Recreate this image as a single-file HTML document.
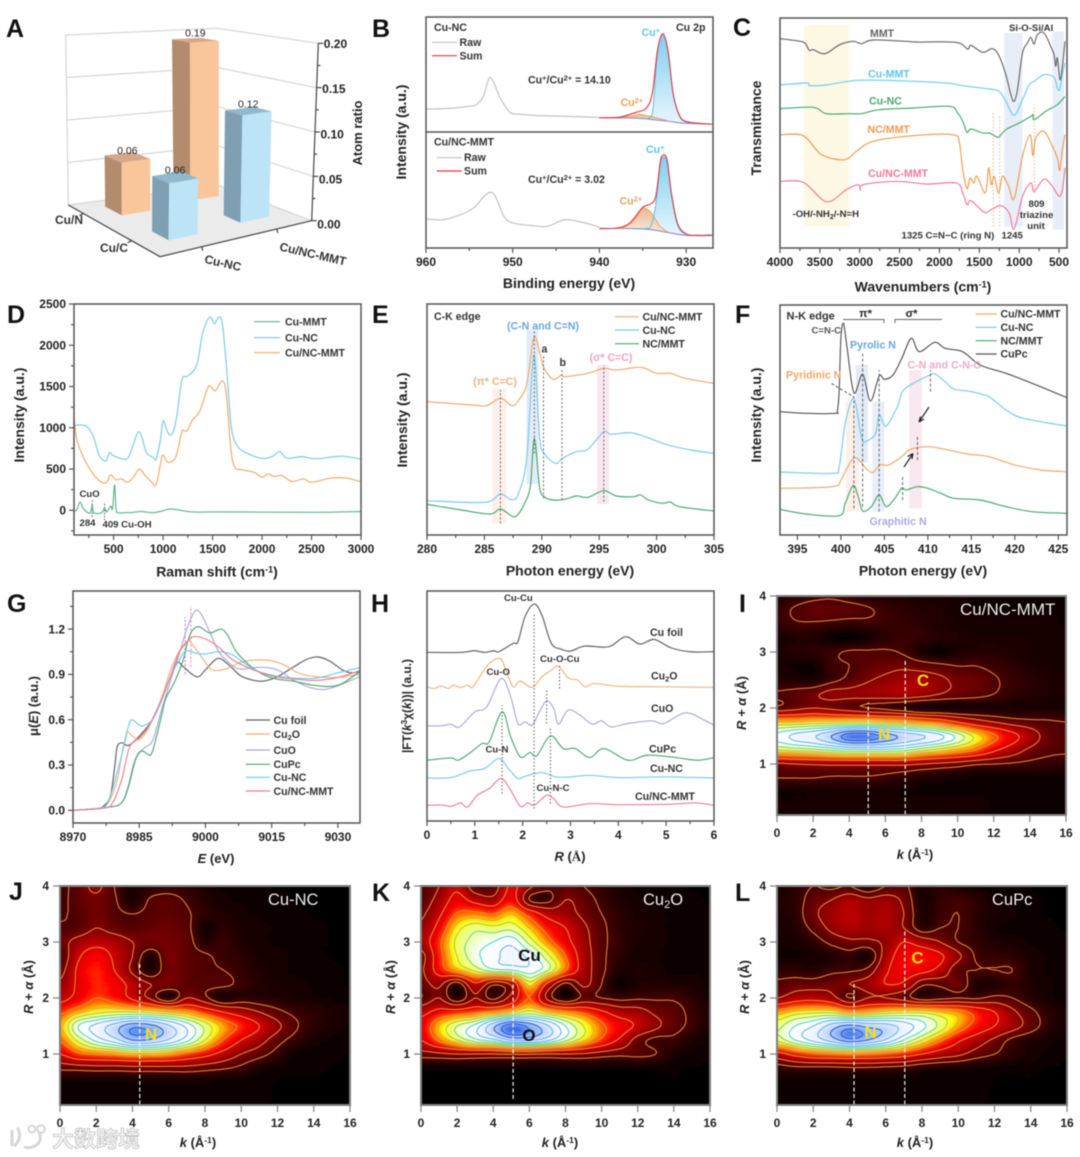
<!DOCTYPE html>
<html lang="en">
<head>
<meta charset="utf-8">
<title>Cu/NC-MMT characterisation figure</title>
<style>
html,body{margin:0;padding:0;background:#fff;width:1080px;height:1157px;overflow:hidden}
svg{display:block;filter:blur(.4px)}
text{font-family:"Liberation Sans","Noto Sans CJK SC",sans-serif;fill:#222}
.pl{font-size:25px;font-weight:700;fill:#111}
.ax{font-size:14px;font-weight:700;text-anchor:middle}
.ay{font-size:14px;font-weight:700;text-anchor:middle}
.tk{font-size:12px;font-weight:700}
.lg{font-size:10.6px;font-weight:700;fill:#333}
.an{font-size:9.6px;font-weight:700;fill:#333}
.cat{font-size:12px;font-weight:700;fill:#333}
.hn{font-size:16.5px;fill:#eee}
.pk{font-size:17px;font-weight:700;text-anchor:middle}
.wm{font-family:"Noto Sans CJK SC",sans-serif;font-size:22px;font-weight:700;fill:#f4f4f4;fill-opacity:.9;stroke:#b0b0b0;stroke-width:.6}
</style>
</head>
<body>
<svg id="figure" xmlns="http://www.w3.org/2000/svg" width="1080" height="1157" viewBox="0 0 1080 1157">
<defs>
<filter id="heat-blur" x="-5%" y="-5%" width="110%" height="110%"><feGaussianBlur stdDeviation="2"/></filter>
<linearGradient id="cu1-fill" x1="0" y1="0" x2="0" y2="1"><stop offset="0" stop-color="#6cc5ee"/><stop offset="1" stop-color="#e4f5fd"/></linearGradient>
<linearGradient id="cu2-fill" x1="0" y1="0" x2="0" y2="1"><stop offset="0" stop-color="#e8a878"/><stop offset="1" stop-color="#fbe8d8"/></linearGradient>
</defs>
<rect width="1080" height="1157" fill="#fff"/>
<g id="panel-a"></g>
<g id="panel-b"></g>
<g id="panel-c"></g>
<g id="panel-d"></g>
<g id="panel-e"></g>
<g id="panel-f"></g>
<g id="panel-g"></g>
<g id="panel-h"></g>
<g id="panel-i"></g>
<g id="panel-j"></g>
<g id="panel-k"></g>
<g id="panel-l"></g>

<!-- panel letters -->
<text class="pl" x="6" y="37">A</text>
<text class="pl" x="372" y="37">B</text>
<text class="pl" x="733" y="36">C</text>
<text class="pl" x="7" y="323">D</text>
<text class="pl" x="372" y="323">E</text>
<text class="pl" x="735" y="323">F</text>
<text class="pl" x="7" y="612">G</text>
<text class="pl" x="371" y="612">H</text>
<text class="pl" x="739" y="612">I</text>
<text class="pl" x="9" y="900">J</text>
<text class="pl" x="372" y="901">K</text>
<text class="pl" x="735" y="901">L</text>

<!-- A -->
<text class="cat" x="83" y="224" text-anchor="end">Cu/N</text>
<text class="cat" x="128" y="252" text-anchor="end">Cu/C</text>
<text class="cat" text-anchor="middle" transform="translate(222,267) rotate(13)">Cu-NC</text>
<text class="cat" text-anchor="middle" transform="translate(312,258) rotate(13)">Cu/NC-MMT</text>
<text class="ay" style="font-size:13px" transform="translate(362,133) rotate(-90)">Atom ratio</text>

<!-- B -->
<text class="lg" x="434" y="31">Cu-NC</text>
<line x1="432" x2="457" y1="42.3" y2="42.3" stroke="#bdbdbd" stroke-width="1.2"/>
<text class="lg" x="459.5" y="46">Raw</text>
<line x1="432" x2="457" y1="55.7" y2="55.7" stroke="#e0393e" stroke-width="1.2"/>
<text class="lg" x="459.5" y="59.5">Sum</text>
<text class="lg" x="676" y="31">Cu 2p</text>
<text class="lg" x="641.5" y="36" style="fill:#5ec4ea">Cu<tspan dy="-3" font-size="7.5">+</tspan></text>
<text class="lg" x="528" y="83.5">Cu<tspan dy="-3" font-size="7.5">+</tspan><tspan dy="3">/Cu</tspan><tspan dy="-3" font-size="7.5">2+</tspan><tspan dy="3"> = 14.10</tspan></text>
<text class="lg" x="620.5" y="106" style="fill:#e8a064">Cu<tspan dy="-3" font-size="7.5">2+</tspan></text>
<text class="lg" x="434" y="145.5">Cu/NC-MMT</text>
<line x1="436.7" x2="461.7" y1="157.7" y2="157.7" stroke="#bdbdbd" stroke-width="1.2"/>
<text class="lg" x="464" y="161">Raw</text>
<line x1="436.7" x2="461.7" y1="171" y2="171" stroke="#e0393e" stroke-width="1.2"/>
<text class="lg" x="464" y="174.5">Sum</text>
<text class="lg" x="646" y="153" style="fill:#5ec4ea">Cu<tspan dy="-3" font-size="7.5">+</tspan></text>
<text class="lg" x="528" y="183">Cu<tspan dy="-3" font-size="7.5">+</tspan><tspan dy="3">/Cu</tspan><tspan dy="-3" font-size="7.5">2+</tspan><tspan dy="3"> = 3.02</tspan></text>
<text class="lg" x="619.5" y="204.5" style="fill:#e8a064">Cu<tspan dy="-3" font-size="7.5">2+</tspan></text>
<text class="ay" transform="translate(406,132) rotate(-90)">Intensity (a.u.)</text>
<text class="ax" x="569" y="288">Binding energy (eV)</text>

<!-- C -->
<text class="lg" x="870" y="37" style="fill:#666">MMT</text>
<text class="lg" x="868" y="77.5" style="fill:#5ec4ea">Cu-MMT</text>
<text class="lg" x="869" y="104.5" style="fill:#46a86c">Cu-NC</text>
<text class="lg" x="867.5" y="133" style="fill:#ee9a4d">NC/MMT</text>
<text class="lg" x="868" y="177" style="fill:#ee7b95">Cu/NC-MMT</text>
<text class="an" x="1009" y="31">Si-O-Si/Al</text>
<text class="an" x="792.5" y="217">-OH/-NH<tspan dy="2" font-size="7">2</tspan><tspan dy="-2">/-N=H</tspan></text>
<text class="an" x="901.5" y="238.5">1325 C=N−C (ring N)</text>
<text class="an" x="1001.5" y="238.5">1245</text>
<text class="an" x="1036.5" y="207" text-anchor="middle">809</text>
<text class="an" x="1036.5" y="218" text-anchor="middle">triazine</text>
<text class="an" x="1036" y="229" text-anchor="middle">unit</text>
<text class="ay" transform="translate(761,128) rotate(-90)">Transmittance</text>
<text class="ax" x="923" y="291.5">Wavenumbers (cm<tspan dy="-4" font-size="9">-1</tspan><tspan dy="4">)</tspan></text>

<!-- D -->
<line x1="254" x2="280" y1="321.7" y2="321.7" stroke="#5cb58a" stroke-width="1.2"/>
<text class="lg" x="285" y="325.5">Cu-MMT</text>
<line x1="254" x2="280" y1="337.7" y2="337.7" stroke="#79c8ec" stroke-width="1.2"/>
<text class="lg" x="285" y="341.5">Cu-NC</text>
<line x1="254" x2="280" y1="352.7" y2="352.7" stroke="#f0a868" stroke-width="1.2"/>
<text class="lg" x="285" y="356.5">Cu/NC-MMT</text>
<text class="an" x="79.5" y="497">CuO</text>
<text class="an" x="79.5" y="526">284</text>
<text class="an" x="102.5" y="527.5">409 Cu-OH</text>
<text class="ay" transform="translate(24,415) rotate(-90)">Intensity (a.u.)</text>
<text class="ax" x="217" y="576.5">Raman shift (cm<tspan dy="-4" font-size="9">-1</tspan><tspan dy="4">)</tspan></text>

<!-- E -->
<text class="lg" x="434" y="320">C-K edge</text>
<line x1="615" x2="639" y1="316.7" y2="316.7" stroke="#f0a868" stroke-width="1.2"/>
<text class="lg" x="642.5" y="320.5">Cu/NC-MMT</text>
<line x1="615" x2="639" y1="330" y2="330" stroke="#79c8ec" stroke-width="1.2"/>
<text class="lg" x="642.5" y="334">Cu-NC</text>
<line x1="615" x2="639" y1="343.7" y2="343.7" stroke="#46a86c" stroke-width="1.2"/>
<text class="lg" x="642.5" y="347.5">NC/MMT</text>
<text class="lg" x="543" y="329.5" text-anchor="middle" style="fill:#6aa6d8">(C-N and C=N)</text>
<text class="lg" x="541.5" y="352.5">a</text>
<text class="lg" x="559.5" y="366">b</text>
<text class="lg" x="611" y="361" text-anchor="middle" style="fill:#f0a0c0">(σ* C=C)</text>
<text class="lg" x="495" y="385" text-anchor="middle" style="fill:#f0b080">(π* C=C)</text>
<text class="ay" transform="translate(407,420) rotate(-90)">Intensity (a.u.)</text>
<text class="ax" x="570" y="575.5">Photon energy (eV)</text>

<!-- F -->
<text class="lg" x="786.5" y="319.5" style="font-size:11px">N-K edge</text>
<path d="M843 319.5H884V323M895 323V319.5H942" fill="none" stroke="#666" stroke-width="1"/>
<text x="865.5" y="317" text-anchor="middle" style="font-size:11px;font-weight:700">π*</text>
<text x="911.5" y="317" text-anchor="middle" style="font-size:11px;font-weight:700">σ*</text>
<text class="an" x="811.5" y="333.5" style="fill:#555">C=N-C</text>
<text class="lg" x="850" y="348.5" style="fill:#6aa6d8">Pyrolic N</text>
<text class="lg" x="786" y="378.5" style="fill:#f0a868">Pyridinic N</text>
<text class="lg" x="907.5" y="368.5" style="fill:#f0a8c4">C-N and C-N-C</text>
<text class="lg" x="869.5" y="525" style="fill:#a8a8e0">Graphitic N</text>
<line x1="975.7" x2="996.7" y1="314" y2="314" stroke="#f0a868" stroke-width="1.2"/>
<text class="lg" x="1000.5" y="317.5">Cu/NC-MMT</text>
<line x1="975.7" x2="996.7" y1="327.3" y2="327.3" stroke="#79c8ec" stroke-width="1.2"/>
<text class="lg" x="1000.5" y="331">Cu-NC</text>
<line x1="975.7" x2="996.7" y1="340.7" y2="340.7" stroke="#46a86c" stroke-width="1.2"/>
<text class="lg" x="1000.5" y="344.5">NC/MMT</text>
<line x1="975.7" x2="996.7" y1="354" y2="354" stroke="#555" stroke-width="1.2"/>
<text class="lg" x="1000.5" y="357.5">CuPc</text>
<line x1="831.5" y1="383.5" x2="854" y2="397" stroke="#444" stroke-width=".9" stroke-dasharray="3 2"/>
<path d="M929 407L919 422M919 422L920.5 416.5M919 422L924 419" fill="none" stroke="#222" stroke-width="1.2"/>
<path d="M904 467L913 453.5M913 453.5L907.5 456.5M913 453.5L912 459" fill="none" stroke="#222" stroke-width="1.2"/>
<text class="ay" transform="translate(761,415) rotate(-90)">Intensity (a.u.)</text>
<text class="ax" x="923" y="575.5">Photon energy (eV)</text>

<!-- G -->
<line x1="245.7" x2="270" y1="720" y2="720" stroke="#5e5e5e" stroke-width="1.2"/>
<text class="lg" x="273.5" y="724">Cu foil</text>
<line x1="245.7" x2="270" y1="734" y2="734" stroke="#f0b078" stroke-width="1.2"/>
<text class="lg" x="273.5" y="738">Cu<tspan dy="2" font-size="7.5">2</tspan><tspan dy="-2">O</tspan></text>
<line x1="245.7" x2="270" y1="750" y2="750" stroke="#a9a9d6" stroke-width="1.2"/>
<text class="lg" x="273.5" y="754">CuO</text>
<line x1="245.7" x2="270" y1="764.3" y2="764.3" stroke="#4ea772" stroke-width="1.2"/>
<text class="lg" x="273.5" y="768">CuPc</text>
<line x1="245.7" x2="270" y1="777.3" y2="777.3" stroke="#6fcbef" stroke-width="1.2"/>
<text class="lg" x="273.5" y="781">Cu-NC</text>
<line x1="245.7" x2="270" y1="791" y2="791" stroke="#ee7f92" stroke-width="1.2"/>
<text class="lg" x="273.5" y="795">Cu/NC-MMT</text>
<text class="ay" style="font-size:13px" transform="translate(38,706) rotate(-90)">μ(<tspan font-style="italic">E</tspan>) (a.u.)</text>
<text class="ax" style="font-size:13px" x="216" y="863"><tspan font-style="italic">E</tspan> (eV)</text>

<!-- H -->
<text class="an" x="504" y="601">Cu-Cu</text>
<text class="lg" x="650" y="636">Cu foil</text>
<text class="an" x="540" y="662">Cu-O-Cu</text>
<text class="lg" x="651" y="679.5">Cu<tspan dy="2" font-size="7.5">2</tspan><tspan dy="-2">O</tspan></text>
<text class="an" x="486.5" y="675">Cu-O</text>
<text class="lg" x="651" y="712">CuO</text>
<text class="lg" x="649" y="752.5">CuPc</text>
<text class="an" x="485.5" y="752.5">Cu-N</text>
<text class="lg" x="650" y="772">Cu-NC</text>
<text class="an" x="536.5" y="791">Cu-N-C</text>
<text class="lg" x="635" y="800">Cu/NC-MMT</text>
<text class="ay" style="font-size:12px" transform="translate(411,706) rotate(-90)">|FT(<tspan font-style="italic">k</tspan><tspan dy="-4" font-size="8">3</tspan><tspan dy="4">χ(</tspan><tspan font-style="italic">k</tspan>))| (a.u.)</text>
<text class="ax" style="font-size:13px" x="570" y="861"><tspan font-style="italic">R</tspan> (<tspan style="font-family:'Liberation Serif',serif">Å</tspan>)</text>

<!-- I -->
<text class="hn" style="font-size:17px" x="960" y="615">Cu/NC-MMT</text>
<text class="pk" x="884" y="740" style="fill:#f0e020">N</text>
<text class="pk" x="923" y="686" style="fill:#f6d814">C</text>
<text class="ax" style="font-size:13px" x="915" y="859"><tspan font-style="italic">k</tspan> (Å<tspan dy="-4" font-size="8.5">-1</tspan><tspan dy="4">)</tspan></text>
<text class="ay" style="font-size:13px" transform="translate(746,703) rotate(-90)"><tspan font-style="italic">R + α</tspan> (Å)</text>

<!-- J -->
<text class="hn" x="268" y="905">Cu-NC</text>
<text class="pk" x="151" y="1040" style="fill:#f0e020">N</text>
<text class="ax" style="font-size:13px" x="198" y="1147"><tspan font-style="italic">k</tspan> (Å<tspan dy="-4" font-size="8.5">-1</tspan><tspan dy="4">)</tspan></text>
<text class="ay" style="font-size:13px" transform="translate(33,987) rotate(-90)"><tspan font-style="italic">R + α</tspan> (Å)</text>

<!-- K -->
<text class="hn" x="643" y="905">Cu<tspan dy="3" font-size="11">2</tspan><tspan dy="-3">O</tspan></text>
<text class="pk" x="529.5" y="961" style="fill:#111">Cu</text>
<text class="pk" x="529" y="1041" style="fill:#111">O</text>
<text class="ax" style="font-size:13px" x="560" y="1147"><tspan font-style="italic">k</tspan> (Å<tspan dy="-4" font-size="8.5">-1</tspan><tspan dy="4">)</tspan></text>
<text class="ay" style="font-size:13px" transform="translate(395,987) rotate(-90)"><tspan font-style="italic">R + α</tspan> (Å)</text>

<!-- L -->
<text class="hn" x="992" y="905">CuPc</text>
<text class="pk" x="917.5" y="963.5" style="fill:#f6d814">C</text>
<text class="pk" x="870.5" y="1038" style="fill:#f0e020">N</text>
<text class="ax" style="font-size:13px" x="915" y="1147"><tspan font-style="italic">k</tspan> (Å<tspan dy="-4" font-size="8.5">-1</tspan><tspan dy="4">)</tspan></text>
<text class="ay" style="font-size:13px" transform="translate(749,987) rotate(-90)"><tspan font-style="italic">R + α</tspan> (Å)</text>

<!-- watermark -->
<g opacity=".95">
<path d="M12 1130V1146M14 1146C22 1140 20 1130 17 1128M24 1147C34 1150 44 1142 39 1133" fill="none" stroke="#d4d4d4" stroke-width="3"/>
<circle cx="32" cy="1129" r="3.4" fill="none" stroke="#d4d4d4" stroke-width="2"/>
<circle cx="41" cy="1129" r="3.8" fill="none" stroke="#d4d4d4" stroke-width="2"/>
<text class="wm" x="52" y="1147">大数跨境</text>
</g>
</svg>

<script>
/* ---------- Panel A data ---------- */
const aRowNames = ['Cu/N', 'Cu/C'];
const aColNames = ['Cu-NC', 'Cu/NC-MMT'];
const aCuN = [0.06, 0.19];
const aCuC = [0.06, 0.12];
const aTicks = [0, 0.05, 0.10, 0.15, 0.20];

/* ---------- Panel B data (x eV, y a.u.) ---------- */
const bTicks = [960, 950, 940, 930];
const bMinor = [955, 945, 935];
const bTopRaw = [[960,69],[957,72],[955,78],[954.2,82],[953.4,107],[952.9,150],[952.6,165],[952.2,150],[951.6,112],[951.1,87],[950.2,57],[949.2,54],[947.3,50],[943.4,47],[940,44]];
const bTopSum = [[940,43],[938,44],[937.3,47],[935.8,59],[934.6,72],[933.9,117],[933.3,247],[932.7,297],[932.1,247],[931.5,117],[930.8,52],[930,32],[928,25],[927,24]];
const bTopBase = [[940,43],[936,42],[934,38],[932,32],[930,26],[927,24]];
const bTopCu1 = [[935,41],[934.2,43],[933.8,75],[933.3,240],[932.7,294],[932.1,244],[931.5,115],[930.8,50],[930,30],[928,25],[927,24]];
const bTopCu2 = [[938,44],[936.5,48],[935.5,53],[935,52],[934,46],[933,40],[932,33]];
const bBotRaw = [[960,88],[958,85],[956,100],[954.5,120],[953.3,155],[952.6,167],[952,155],[951,95],[950,75],[948,68],[946,65],[944,85],[942,77],[940,63]];
const bBotSum = [[940,58],[938,60],[936.5,75],[935,122],[934.1,132],[933.5,155],[933,255],[932.7,278],[932.2,265],[931.7,165],[931,75],[930,42],[928.5,38],[927,39]];
const bBotBase = [[940,59],[936,58],[934,55],[932,46],[930,38],[927,37]];
const bBotCu1 = [[936,58],[934.5,59],[934,70],[933.5,130],[933,250],[932.7,272],[932.2,260],[931.7,160],[931,70],[930,41],[928,38],[927,38]];
const bBotCu2 = [[938,60],[937,64],[936,85],[935.2,117],[934.8,120],[934,105],[933,65],[932,46]];

/* ---------- Panel C data ---------- */
const cTicks = [4000, 3500, 3000, 2500, 2000, 1500, 1000, 500];
const cMinor = [3750, 3250, 2750, 2250, 1750, 1250, 750];
const cMmt = [[4000,628],[3792,622],[3688,615],[3633,593],[3583,595],[3437,583],[3250,610],[3083,620],[2979,613],[2833,624],[2417,620],[2292,618],[1792,617],[1646,597],[1604,608],[1458,587],[1333,598],[1250,575],[1167,520],[1104,460],[1063,440],[1021,475],[958,585],[896,615],[854,632],[812,612],[771,640],[688,645],[604,605],[563,580],[542,545],[521,570],[487,505],[458,545],[425,620]];
const cCuMmt = [[4000,489],[3667,495],[3625,487],[3417,489],[3042,503],[2542,502],[1917,495],[1708,487],[1375,477],[1250,470],[1167,440],[1063,398],[958,445],[875,490],[812,500],[688,520],[563,512],[521,480],[492,475],[458,520],[425,555]];
const cCuNc = [[4000,418],[3583,422],[3417,403],[3125,403],[2979,403],[2750,415],[2333,420],[1875,425],[1771,405],[1708,380],[1654,347],[1604,357],[1458,345],[1375,345],[1333,340],[1258,333],[1167,355],[1000,375],[854,395],[825,400],[812,385],[667,410],[521,430],[425,455]];
const cNcMmt = [[4000,340],[3708,337],[3479,280],[3188,265],[3042,290],[2833,320],[2333,337],[1833,340],[1750,315],[1708,235],[1654,178],[1617,210],[1570,195],[1529,215],[1425,165],[1383,240],[1350,190],[1313,215],[1258,165],[1208,215],[1133,185],[1063,148],[958,275],[863,340],[829,277],[792,330],[688,350],[583,305],[521,270],[492,233],[458,295],[425,340]];
const cCuNcMmt = [[4000,200],[3708,197],[3417,139],[3167,175],[3021,190],[2988,173],[2958,190],[2542,200],[2167,192],[1792,195],[1708,165],[1654,130],[1604,142],[1438,107],[1354,115],[1229,127],[1125,105],[1063,57],[958,155],[854,195],[812,170],[688,207],[583,185],[500,155],[458,175],[425,240]];
const cBands = [[3700,3133,65,670],[1188,958,65,645],[583,437,55,650]];
const cRefs = [[1325,65,405],[1245,65,395],[809,165,430]];

/* ---------- Panel D data ---------- */
const dTicksX = [500, 1000, 1500, 2000, 2500, 3000];
const dMinorX = [250, 750, 1250, 1750, 2250, 2750];
const dTicksY = [0, 500, 1000, 1500, 2000, 2500];
const dMinorY = [-250, 250, 750, 1250, 1750, 2250];
const dCuNc = [[100,1030],[200,1030],[250,990],[300,880],[350,680],[400,600],[430,610],[460,700],[500,660],[600,620],[650,640],[700,800],[750,950],[790,870],[830,700],[900,640],[930,620],[970,830],[1000,1080],[1030,1000],[1060,920],[1100,940],[1140,1150],[1190,1580],[1240,1620],[1300,1680],[1350,1800],[1400,2150],[1470,2340],[1520,2260],[1560,2340],[1600,2250],[1650,1600],[1690,1000],[1750,780],[1850,690],[2000,630],[2100,650],[2180,710],[2250,630],[2400,650],[2550,625],[2800,655],[3000,620]];
const dCuNcMmt = [[100,1130],[130,850],[200,630],[300,430],[380,340],[430,340],[470,430],[520,370],[580,380],[640,340],[700,400],[760,500],[820,420],[880,350],[930,310],[980,600],[1000,670],[1050,580],[1130,650],[1190,950],[1240,960],[1300,1100],[1370,1200],[1450,1480],[1480,1500],[1530,1450],[1600,1570],[1640,1400],[1680,800],[1720,530],[1800,490],[1920,460],[2000,400],[2060,440],[2120,410],[2200,420],[2300,350],[2420,380],[2500,340],[2700,390],[2850,390],[3000,345]];
const dCuMmt = [[100,-20],[130,10],[160,100],[190,30],[240,-30],[270,-20],[284,70],[300,-30],[380,-30],[409,30],[430,-20],[470,50],[490,20],[510,310],[525,20],[550,-30],[700,-25],[780,-15],[900,-30],[1000,-5],[1070,15],[1150,5],[1300,-20],[1700,-20],[2500,-25],[3000,-15]];
const dRefs = [[284,-81,121],[409,-121,81]];

/* ---------- Panel E data ---------- */
const eTicks = [280, 285, 290, 295, 300, 305];
const eMinor = [282.5, 287.5, 292.5, 297.5, 302.5];
const eCuNcMmt = [[280,400],[284,390],[285.2,388],[286.4,410],[287.4,388],[288,405],[288.7,455],[289.3,592],[289.8,550],[290.2,500],[291,467],[291.7,480],[292,475],[294,485],[295.4,500],[296.5,495],[298.6,503],[300,485],[301.2,485],[302.5,470],[305,455]];
const eCuNc = [[280,103],[285,98],[286.4,123],[287.4,105],[288,127],[288.7,235],[289.3,540],[289.8,295],[290.2,245],[291.2,215],[291.8,230],[293,250],[294,257],[295.4,310],[296,302],[297.7,307],[299,295],[301,270],[303,255],[305,245]];
const eNcMmt = [[280,92],[283,75],[285.5,63],[286.4,78],[287.5,55],[288,65],[288.5,95],[289,145],[289.35,290],[289.8,145],[290.2,115],[291,105],[292,107],[293,117],[294,113],[295.4,133],[296.5,117],[298,115],[298.6,120],[299.3,105],[300.5,95],[301.2,99],[302,85],[305,72]];
const eBands = [[285.7,286.9,35,440],[288.66,289.7,153,615],[294.8,295.85,93,510]];
const eRefs = [[286.4,35,435],[289.35,245,615],[290.15,110,540],[291.75,105,500],[295.4,100,510]];

/* ---------- Panel F data ---------- */
const fTicks = [395, 400, 405, 410, 415, 420, 425];
const fMinor = [397.5, 402.5, 407.5, 412.5, 417.5, 422.5];
const fCuPc = [[393,370],[396,365],[399.4,365],[399.6,372],[399.8,430],[400,590],[400.3,635],[400.7,565],[401.5,427],[402.5,482],[403.4,402],[404.4,477],[405,467],[406,480],[407,530],[408.1,590],[409,550],[410.8,578],[412,560],[414,550],[416,510],[419,485],[422,455],[426,412]];
const fCuNc = [[393,189],[399,185],[399.8,205],[400.5,335],[401.5,408],[402.4,290],[403,282],[404,305],[404.4,360],[405.2,327],[406.5,385],[407,427],[408,450],[410,477],[410.8,483],[412,460],[413,438],[415,430],[417,415],[419,375],[421,350],[426,327]];
const fCuNcMmt = [[393,140],[399,145],[400,165],[400.8,205],[401.7,232],[403,197],[403.7,188],[404.5,210],[405.5,210],[407,235],[408,257],[410,265],[412,257],[414.5,243],[417,235],[420,210],[423,195],[426,190]];
const fNcMmt = [[393,77],[396,63],[399.8,58],[400.5,95],[401.4,148],[402,115],[402.5,72],[403.5,85],[404.4,120],[405.2,85],[406.2,110],[407,140],[407.5,135],[408.8,145],[410,140],[411.5,125],[413,110],[416,105],[419,85],[422,70],[426,65]];
const fBands = [[400.6,402.1,70,400],[401.7,403.1,217,510],[403.6,405,70,400],[407.85,409.3,80,495]];
const fRefs = [[401.5,80,415],[402.5,85,545],[404.4,70,495],[407.1,105,175],[408.8,225,298],[410.3,430,495]];

/* ---------- Panel G data ---------- */
const gTicksX = [8970, 8985, 9000, 9015, 9030];
const gMinorX = [8977.5, 8992.5, 9007.5, 9022.5];
const gTicksY = [0.0, 0.3, 0.6, 0.9, 1.2];
const gMinorY = [0.15, 0.45, 0.75, 1.05, 1.35];
const gCuFoil = [[8970,0],[8975,.01],[8977,.03],[8978.5,.10],[8979.5,.3],[8980,.42],[8981,.447],[8982.6,.43],[8985,.49],[8988,.60],[8990,.73],[8992,.88],[8993.5,.98],[8995,.95],[8997,.90],[8998.5,.885],[9000,.93],[9002.7,1.005],[9005,.97],[9008,.89],[9011,.86],[9013,.855],[9016,.88],[9020,.95],[9023,1.0],[9025.5,1.015],[9028,.99],[9031,.93],[9033,.91],[9035,.92]];
const gCu2O = [[8970,0],[8976,.015],[8978,.05],[8980,.2],[8981,.36],[8982,.50],[8982.4,.52],[8983.5,.49],[8985,.47],[8987,.54],[8990,.74],[8992,.92],[8994,1.05],[8996,1.12],[8997,1.10],[8999,1.02],[9001,.94],[9002.5,.925],[9005,.94],[9008,.98],[9011,.995],[9015,.99],[9018,.96],[9021,.91],[9025,.885],[9030,.88],[9035,.90]];
const gCuO = [[8970,0],[8978,.02],[8981,.05],[8982.5,.16],[8984,.33],[8986,.41],[8988,.46],[8990,.66],[8992,.85],[8994,1.03],[8996,1.22],[8997.7,1.32],[8999,1.30],[9001,1.18],[9003,1.05],[9006,.96],[9008,.935],[9011,.945],[9014,.945],[9017,.92],[9020,.86],[9024,.81],[9027,.80],[9030,.825],[9035,.885]];
const gCuPc = [[8970,0],[8978,.02],[8981,.05],[8982.5,.15],[8984,.32],[8985,.385],[8986,.39],[8987,.37],[8988,.39],[8990,.62],[8991,.74],[8993,.85],[8995,1.00],[8996,1.12],[8997,1.19],[8998.5,1.215],[9001,1.175],[9003.5,1.2],[9005,1.16],[9007,1.05],[9010,.96],[9013,.90],[9016,.87],[9020,.855],[9024,.83],[9028,.82],[9031,.84],[9035,.92]];
const gCuNc = [[8970,0],[8976,.015],[8978,.06],[8980,.25],[8981.5,.42],[8982.5,.55],[8983.3,.60],[8985,.565],[8986,.56],[8988,.60],[8990,.72],[8992,.88],[8994,.99],[8995.5,1.055],[8998,1.04],[9000,1.035],[9003,1.05],[9006,1.03],[9009,.97],[9012,.92],[9016,.89],[9020,.875],[9025,.875],[9030,.91],[9035,.945]];
const gCuNcMmt = [[8970,0],[8977,.015],[8979,.05],[8981,.2],[8982,.33],[8983,.43],[8985,.48],[8987,.55],[8990,.73],[8992,.88],[8994,1.04],[8996,1.12],[8997.5,1.15],[9000,1.135],[9003,1.08],[9006,1.0],[9010,.94],[9015,.89],[9020,.87],[9025,.86],[9030,.88],[9035,.925]];
const gRefs = [[8995.4,.9,1.28],[8996.7,.95,1.35]];

/* ---------- Panel H data ---------- */
const hTicks = [0, 1, 2, 3, 4, 5, 6];
const hMinor = [.5, 1.5, 2.5, 3.5, 4.5, 5.5];
const hCuFoil = [[0,505],[.7,505],[1,510],[1.2,505],[1.4,510],[1.5,507],[1.8,532],[1.9,537],[2.05,612],[2.24,650],[2.4,617],[2.6,532],[2.8,515],[3,509],[3.3,524],[3.8,522],[4.15,552],[4.45,530],[4.75,544],[5.1,519],[5.5,507],[6,507]];
const hCu2O = [[0,402],[.15,397],[.3,404],[.45,397],[.55,407],[.7,400],[.85,407],[.95,400],[1.1,432],[1.3,472],[1.53,487],[1.65,452],[1.8,402],[1.95,419],[2.2,400],[2.4,432],[2.6,452],[2.75,464],[2.95,429],[3.15,422],[3.3,402],[3.5,412],[4,404],[5,402],[6,400]];
const hCuO = [[0,285],[.3,285],[.5,290],[.68,282],[1,327],[1.25,342],[1.55,427],[1.75,372],[1.9,292],[2.05,297],[2.2,287],[2.35,327],[2.5,360],[2.65,337],[2.75,290],[2.95,332],[3.2,317],[3.45,290],[3.65,300],[3.85,282],[4.2,292],[4.7,300],[4.95,292],[5.4,324],[5.8,302],[6,287]];
const hCuPc = [[0,182],[.5,189],[.65,182],[.9,204],[1.15,232],[1.3,237],[1.57,327],[1.75,252],[1.95,192],[2.15,205],[2.3,196],[2.58,255],[2.85,217],[3.1,217],[3.4,190],[3.7,217],[4.2,182],[4.6,197],[5.1,192],[5.65,182],[6,190]];
const hCuNc = [[0,129],[.5,130],[.9,150],[1.2,157],[1.5,187],[1.7,157],[1.9,127],[2.05,134],[2.4,145],[2.7,132],[3,132],[3.4,137],[4,130],[5,132],[6,129]];
const hCuNcMmt = [[0,47],[.3,48],[.5,44],[.7,54],[.85,42],[1.05,77],[1.3,97],[1.55,127],[1.75,92],[1.95,44],[2.1,54],[2.25,48],[2.5,77],[2.65,67],[2.85,42],[3.4,52],[4,49],[5,50],[5.6,54],[6,47]];
const hRefs = [[2.24,37,622],[2.77,397,464],[2.5,292,397],[1.57,82,347],[2.58,52,282]];

/* ---------- Wavelet data: rows R = 4.00 down to 0.00 (step .25), columns k = 0..16 ---------- */
const kTicks = [0, 2, 4, 6, 8, 10, 12, 14, 16];
const rTicks = [1, 2, 3, 4];
const heatI = [
[6,8,10,11,9,7,6,6,5,5,4,3,2,2,2,2,2],
[9,13,16,16,15,13,10,8,7,6,4,3,3,3,3,3,3],
[8,11,11,10,9,10,10,9,8,6,5,4,4,4,4,4,3],
[4,6,6,2,1,4,8,10,9,7,6,5,5,5,5,4,4],
[5,7,8,10,13,13,13,11,5,2,5,7,7,6,5,4,4],
[4,3,3,10,12,15,17,18,16,14,12,12,10,8,6,5,4],
[7,6,5,10,14,19,22,25,25,22,18,17,13,10,8,6,5],
[13,15,18,23,23,24,25,26,24,20,17,15,12,9,7,6,5],
[14,17,20,18,15,12,10,7,3,3,3,4,5,5,5,5,4],
[52,52,54,54,55,55,52,50,45,40,32,25,20,16,14,13,12],
[72,78,82,90,100,100,94,88,84,78,68,56,46,36,26,16,13],
[58,60,62,65,68,68,68,66,60,55,50,44,34,26,18,14,13],
[18,20,21,22,22,22,22,22,20,18,16,13,12,11,10,9,8],
[12,12,12,11,11,11,10,8,6,5,4,3,3,3,3,3,2],
[3,3,4,4,4,4,4,3,3,3,3,3,3,2,2,2,2],
[5,5,5,5,5,5,5,5,5,5,4,4,3,3,2,2,2],
[2,2,2,2,2,2,2,2,2,2,2,2,2,2,2,2,2]];
const heatJ = [
[10,15,22,12,5,7,8,7,5,3,2,2,1,1,1,1,1],
[10,15,18,13,5,13,15,11,7,4,3,2,2,1,1,1,1],
[11,14,18,14,12,14,15,13,8,6,4,3,2,2,1,1,1],
[13,14,20,16,14,16,17,14,4,8,5,4,3,2,2,1,1],
[16,24,28,26,20,18,18,15,7,10,6,4,3,3,2,1,1],
[12,30,38,30,20,6,19,15,13,10,8,5,4,3,2,1,1],
[16,34,42,32,18,5,18,15,13,12,9,6,4,3,3,2,1],
[22,34,42,38,28,20,19,15,14,14,10,7,5,4,3,2,1],
[28,36,44,40,30,18,5,20,14,4,8,7,6,5,4,3,2],
[42,50,56,58,58,56,52,48,40,32,26,20,14,10,8,6,4],
[50,70,78,86,94,92,84,74,62,50,42,32,22,13,8,5,3],
[45,60,72,80,90,89,82,72,58,44,32,24,15,9,5,3,2],
[32,42,45,47,50,50,48,42,36,28,20,15,9,3,2,2,1],
[14,15,16,16,17,17,17,17,15,13,10,5,3,2,2,1,1],
[3,3,3,3,3,3,3,3,3,2,2,2,1,1,1,1,1],
[3,3,3,3,3,3,3,3,2,2,2,2,1,1,1,1,1],
[1,1,1,1,1,1,1,1,1,1,1,1,1,1,1,1,1]];
const heatK = [
[12,20,30,14,14,34,22,14,15,12,8,5,3,2,2,1,1],
[14,24,36,28,24,38,12,10,20,16,10,6,4,3,2,2,1],
[18,30,45,47,44,52,40,28,24,18,12,8,5,4,3,2,2],
[22,36,55,62,60,62,52,40,32,22,14,8,6,4,3,3,2],
[25,42,60,66,70,74,62,48,36,24,14,9,5,4,3,3,2],
[16,40,58,68,74,78,74,60,44,26,14,8,4,4,2,2,2],
[18,38,50,60,68,70,74,65,45,26,14,6,6,5,2,3,3],
[16,22,8,30,14,22,55,30,10,22,12,3,6,6,6,5,3],
[12,20,6,20,10,24,44,18,4,14,12,10,11,11,11,8,4],
[28,36,38,42,46,52,60,52,46,42,34,26,24,18,15,10,6],
[36,52,64,72,88,100,94,84,70,58,46,38,30,22,15,10,5],
[32,46,58,68,74,84,84,78,66,54,42,30,16,10,10,6,3],
[16,18,20,20,20,21,21,20,20,19,16,14,14,12,5,3,2],
[2,2,2,2,2,2,2,2,2,2,2,2,2,2,2,1,1],
[1,1,1,1,1,1,1,1,1,1,1,1,1,1,1,1,1],
[1,1,1,1,1,1,1,1,1,1,1,1,1,1,1,1,1],
[1,1,1,1,1,1,1,1,1,1,1,1,1,1,1,1,1]];
const heatL = [
[6,8,12,10,12,5,12,14,4,8,5,3,2,2,1,1,1],
[6,8,16,20,26,22,24,18,5,9,11,8,4,3,2,1,1],
[5,8,18,24,28,24,26,20,6,10,12,8,5,4,2,1,1],
[5,7,14,22,26,24,26,20,8,12,12,8,4,2,3,2,1],
[4,5,8,14,18,18,22,32,26,20,12,9,6,5,3,2,2],
[3,3,4,6,9,4,25,38,40,34,22,11,9,8,5,3,2],
[8,8,7,10,11,14,30,38,36,28,14,12,12,12,5,3,2],
[14,16,16,18,20,24,32,30,14,14,18,6,6,9,6,4,2],
[20,26,28,24,12,20,20,16,8,10,12,11,14,12,7,4,2],
[48,54,56,56,48,50,54,56,56,52,48,40,32,22,14,8,4],
[62,70,76,86,92,88,86,80,72,62,50,40,32,24,16,8,4],
[60,70,78,86,94,90,82,70,58,46,34,26,18,10,6,4,3],
[28,36,42,44,45,44,42,38,32,26,22,16,12,8,5,3,2],
[8,10,10,10,11,11,10,9,6,5,4,3,3,2,2,1,1],
[2,2,2,2,2,2,2,2,2,2,2,2,1,1,1,1,1],
[3,3,3,3,3,3,3,3,3,2,2,2,1,1,1,1,1],
[1,1,1,1,1,1,1,1,1,1,1,1,1,1,1,1,1]];
const contourLevels = [12, 20, 32, 44, 52, 58, 64, 70, 76, 83, 90, 96];
const refsI = [[5.05,.1,2.1],[7.1,.1,2.85]];
const refsJ = [[4.4,.1,2.65]];
const refsK = [[5.1,.2,3.3]];
const refsL = [[4.25,.1,2.25],[7.05,.1,3.2]];

/* ---------- helpers ---------- */
const NS = 'http://www.w3.org/2000/svg';
function mk(tag, attrs, parent) {
  const e = document.createElementNS(NS, tag);
  for (const k in attrs) e.setAttribute(k, attrs[k]);
  parent.appendChild(e);
  return e;
}
function linear(d, r) { return v => r[0] + (v - d[0]) * (r[1] - r[0]) / (d[1] - d[0]); }
function slug(s) { return String(s).toLowerCase().replace(/[^a-z0-9.]+/g, '-'); }
function splineTail(pts) {
  let d = '';
  for (let i = 0; i < pts.length - 1; i++) {
    const p0 = pts[Math.max(i - 1, 0)], p1 = pts[i], p2 = pts[i + 1], p3 = pts[Math.min(i + 2, pts.length - 1)];
    const c1x = p1[0] + (p2[0] - p0[0]) / 6, c1y = p1[1] + (p2[1] - p0[1]) / 6;
    const c2x = p2[0] - (p3[0] - p1[0]) / 6, c2y = p2[1] - (p3[1] - p1[1]) / 6;
    d += 'C' + c1x.toFixed(2) + ' ' + c1y.toFixed(2) + ' ' + c2x.toFixed(2) + ' ' + c2y.toFixed(2) + ' ' + p2[0].toFixed(2) + ' ' + p2[1].toFixed(2);
  }
  return d;
}
function splineD(pts) { return 'M' + pts[0][0].toFixed(2) + ' ' + pts[0][1].toFixed(2) + splineTail(pts); }
function scale(box, xd, yd) {
  return { box: box, X: linear(xd, [box[0], box[2]]), Y: linear(yd, [box[3], box[1]]) };
}
function toPx(s, data) { return data.map(p => [s.X(p[0]), s.Y(p[1])]); }
function drawLine(parent, s, data, color, name, width) {
  const p = mk('path', { d: splineD(toPx(s, data)), fill: 'none', stroke: color, 'stroke-width': width || 1.15, 'stroke-linejoin': 'round' }, parent);
  
  
  return p;
}
function drawBand(parent, s, band, color, name) {
  const x0 = s.X(band[0]), x1 = s.X(band[1]), y0 = s.Y(band[3]), y1 = s.Y(band[2]);
  const r = mk('rect', { x: Math.min(x0, x1), y: y0, width: Math.abs(x1 - x0), height: y1 - y0, fill: color }, parent);
  
  
}
function drawRef(parent, s, ref, color, dash, name, width) {
  const l = mk('line', { x1: s.X(ref[0]), x2: s.X(ref[0]), y1: s.Y(ref[1]), y2: s.Y(ref[2]), stroke: color, 'stroke-width': width || 1, 'stroke-dasharray': dash }, parent);
  
  
}
function tickLabel(parent, x, y, anchor, str, name) {
  const t = mk('text', { class: 'tk', x: x, y: y, 'text-anchor': anchor }, parent);
  t.textContent = str;
  
  
}
function tickMark(parent, x1, y1, x2, y2, color, name) {
  const l = mk('line', { x1: x1, y1: y1, x2: x2, y2: y2, stroke: color, 'stroke-width': 1.2 }, parent);
  
  
}
function drawFrame(parent, s, o) {
  const b = s.box, col = o.color || '#555';
  const r = mk('rect', { x: b[0], y: b[1], width: b[2] - b[0], height: b[3] - b[1], fill: 'none', stroke: col, 'stroke-width': o.frameW || 1.5 }, parent);
  
  
  const maj = o.major || 5, min = 3;
  (o.xTicks || []).forEach(v => {
    tickMark(parent, s.X(v), b[3], s.X(v), b[3] + maj, col, 'x-tick-' + slug(v));
    tickLabel(parent, s.X(v), b[3] + (o.xLabelOff || 18), 'middle', (o.xFmt || String)(v), 'x-tick-label-' + slug(v));
  });
  (o.xMinor || []).forEach(v => tickMark(parent, s.X(v), b[3], s.X(v), b[3] + min, col, 'x-minor-tick-' + slug(v)));
  (o.yTicks || []).forEach(v => {
    tickMark(parent, b[0] - maj, s.Y(v), b[0], s.Y(v), col, 'y-tick-' + slug(v));
    tickLabel(parent, b[0] - maj - (o.yLabelGap || 3), s.Y(v) + 4.2, 'end', (o.yFmt || String)(v), 'y-tick-label-' + slug(v));
  });
  (o.yMinor || []).forEach(v => tickMark(parent, b[0] - min, s.Y(v), b[0], s.Y(v), col, 'y-minor-tick-' + slug(v)));
}

/* ---------- Panel A: 3-D bars ---------- */
(function () {
  const g = document.getElementById('panel-a');
  const floorL = [68.3, 205], floorF = [160, 256.7], floorR = [311.7, 220.7], floorB = [218.3, 185];
  const topL = [65.7, 35], topF = [161.7, 56.7], topR = [318.3, 43.3], topB = [216.7, 28.3];
  function bil(c00, c10, c01, c11, a, b) {
    return [0, 1].map(i => (1 - a) * (1 - b) * c00[i] + a * (1 - b) * c10[i] + (1 - a) * b * c01[i] + a * b * c11[i]);
  }
  const aScale = linear([0, 0.2], [0, 1]);
  function proj(a, b, v) {
    const f = bil(floorL, floorB, floorF, floorR, a, b), t = bil(topL, topB, topF, topR, a, b), h = aScale(v);
    return [f[0] + (t[0] - f[0]) * h, f[1] + (t[1] - f[1]) * h];
  }
  const pts = arr => arr.map(p => p[0].toFixed(1) + ',' + p[1].toFixed(1)).join(' ');
  const floor = mk('polygon', { points: pts([floorL, floorF, floorR, floorB]), fill: '#ebebeb' }, g);
  
  
  aTicks.forEach(v => {
    const w = mk('polyline', { points: pts([proj(0, 0, v), proj(1, 0, v), proj(1, 1, v)]), fill: 'none', stroke: '#cfcfcf', 'stroke-width': 1 }, g);
    
    
  });
  const wallEdge = mk('line', { x1: floorL[0], y1: floorL[1], x2: topL[0], y2: topL[1], stroke: '#cfcfcf', 'stroke-width': 1 }, g);
  
  
  const edges = mk('polyline', { points: pts([floorL, floorF, floorR, topR]), fill: 'none', stroke: '#444', 'stroke-width': 1.2 }, g);
  
  
  const aCenters = [0.275, 0.77], bCenters = [0.165, 0.69], halfA = 0.095, halfB = 0.09;
  const bShift = [[0.0325, -0.032], [0.017, -0.017]];
  const orange = { left: '#b28c6c', front: '#f9c69c', top: '#d4a888' }, blue = { left: '#7f9fb2', front: '#bce3f6', top: '#8fb9cd' };
  function bar(row, col, value, style, label) {
    const bc = bCenters[row] + bShift[row][col];
    const a0 = aCenters[col] - halfA, a1 = aCenters[col] + halfA, b0 = bc - halfB, b1 = bc + halfB;
    const base = 'bar-' + slug(aRowNames[row]) + '-' + slug(aColNames[col]);
    const left = mk('polygon', { points: pts([proj(a0, b0, 0), proj(a0, b1, 0), proj(a0, b1, value), proj(a0, b0, value)]), fill: style.left }, g);
    
    
    const front = mk('polygon', { points: pts([proj(a0, b1, 0), proj(a1, b1, 0), proj(a1, b1, value), proj(a0, b1, value)]), fill: style.front }, g);
    
    
    const top = mk('polygon', { points: pts([proj(a0, b0, value), proj(a0, b1, value), proj(a1, b1, value), proj(a1, b0, value)]), fill: style.top }, g);
    
    
    const c = proj((a0 + a1) / 2, bc, value);
    const t = mk('text', { x: c[0], y: c[1] - 3.5, 'text-anchor': 'middle', style: 'font-size:10.5px;fill:#222' }, g);
    t.textContent = label;
    
    
  }
  aCuN.forEach((v, i) => bar(0, i, v, orange, v.toFixed(2)));
  aCuC.forEach((v, i) => bar(1, i, v, blue, v.toFixed(2)));
  aTicks.forEach(v => {
    const p = proj(1, 1, v);
    tickMark(g, p[0], p[1], p[0] + 5, p[1], '#444', 'value-tick-' + slug(v));
    tickLabel(g, p[0] + 5.5, p[1] + 4.5 + (1 - aScale(v)) * 3.5, 'start', v.toFixed(2), 'value-tick-label-' + slug(v));
  });
  [0.025, 0.075, 0.125, 0.175].forEach(v => {
    const p = proj(1, 1, v);
    tickMark(g, p[0], p[1], p[0] + 3, p[1], '#444', 'value-minor-tick-' + slug(v));
  });
  bCenters.forEach((b, i) => { const p = proj(0, b, 0); tickMark(g, p[0], p[1], p[0] - 4, p[1] + 2, '#444', 'row-tick-' + i); });
  aCenters.forEach((a, i) => { const p = proj(a, 1, 0); tickMark(g, p[0], p[1], p[0] + 1, p[1] + 4, '#444', 'column-tick-' + i); });
})();

/* ---------- Panel B ---------- */
(function () {
  const g = document.getElementById('panel-b');
  const xd = [960, 926.9];
  const top = scale([426, 17, 713, 132], xd, [0, 347]);
  const bot = scale([426, 132, 713, 248], xd, [0, 348]);
  function area(s, comp, base, fill, name) {
    const c = toPx(s, comp);
    const b = toPx(s, base.filter(p => p[0] <= comp[0][0] && p[0] >= comp[comp.length - 1][0])).reverse();
    const back = b.length ? 'L' + b[0][0].toFixed(2) + ' ' + b[0][1].toFixed(2) + splineTail(b) : '';
    const p = mk('path', { d: splineD(c) + back + 'Z', fill: fill, 'fill-opacity': .85 }, g);
    
    
  }
  [[top, bTopRaw, bTopSum, bTopBase, bTopCu1, bTopCu2, 'cu-nc'], [bot, bBotRaw, bBotSum, bBotBase, bBotCu1, bBotCu2, 'cu-nc-mmt']].forEach(set => {
    const s = set[0], n = set[6];
    area(s, set[4], set[3], 'url(#cu1-fill)', 'cu1-fill-' + n);
    area(s, set[5], set[3], 'url(#cu2-fill)', 'cu2-fill-' + n);
    drawLine(g, s, set[1], '#bdbdbd', 'raw-line-' + n, 1.1);
    drawLine(g, s, set[3], '#8a8fc8', 'baseline-' + n, 1.1);
    drawLine(g, s, set[5], '#eda366', 'cu2-line-' + n, 1);
    drawLine(g, s, set[4], '#5dbce6', 'cu1-line-' + n, 1);
    drawLine(g, s, set[2], '#e0393e', 'sum-line-' + n, 1.1);
  });
  const d = mk('line', { x1: 426, x2: 713, y1: 132, y2: 132, stroke: '#555', 'stroke-width': 1.5 }, g);
  
  
  drawFrame(g, scale([426, 17, 713, 248], xd, [0, 1]), { xTicks: bTicks, xMinor: bMinor });
})();

/* ---------- Panel C ---------- */
(function () {
  const g = document.getElementById('panel-c');
  const s = scale([780, 18, 1067, 248], [4000, 400], [0, 690]);
  const cols = ['#fdf8e4', '#e8eef8', '#e8eef8'];
  cBands.forEach((b, i) => drawBand(g, s, b, cols[i], 'highlight-band-' + i));
  cRefs.forEach((r, i) => drawRef(g, s, r, '#f0b080', '1.5 2', 'reference-line-' + r[0], 1));
  drawLine(g, s, cMmt, '#666', 'series-mmt');
  drawLine(g, s, cCuMmt, '#6fcbef', 'series-cu-mmt');
  drawLine(g, s, cCuNc, '#46a86c', 'series-cu-nc');
  drawLine(g, s, cNcMmt, '#ee9a4d', 'series-nc-mmt');
  drawLine(g, s, cCuNcMmt, '#ee7b95', 'series-cu-nc-mmt');
  drawFrame(g, s, { xTicks: cTicks, xMinor: cMinor });
})();

/* ---------- Panel D ---------- */
(function () {
  const g = document.getElementById('panel-d');
  const s = scale([74, 304, 361, 535], [100, 3000], [-300, 2500]);
  dRefs.forEach(r => drawRef(g, s, r, '#555', '1.5 1.5', 'reference-line-' + r[0], 1));
  drawLine(g, s, dCuNc, '#79c8ec', 'series-cu-nc');
  drawLine(g, s, dCuNcMmt, '#f0a868', 'series-cu-nc-mmt');
  drawLine(g, s, dCuMmt, '#5cb58a', 'series-cu-mmt');
  drawFrame(g, s, { xTicks: dTicksX, xMinor: dMinorX, yTicks: dTicksY, yMinor: dMinorY });
})();

/* ---------- Panel E ---------- */
(function () {
  const g = document.getElementById('panel-e');
  const s = scale([427, 304, 714, 535], [280, 305], [0, 693]);
  const cols = ['#fdf0e8', '#e2ebf7', '#f7e8ef'];
  eBands.forEach((b, i) => drawBand(g, s, b, cols[i], 'highlight-band-' + i));
  drawLine(g, s, eCuNcMmt, '#f0a868', 'series-cu-nc-mmt');
  drawLine(g, s, eCuNc, '#79c8ec', 'series-cu-nc');
  drawLine(g, s, eNcMmt, '#46a86c', 'series-nc-mmt');
  eRefs.forEach(r => drawRef(g, s, r, '#666', '2 2', 'reference-line-' + r[0], 1));
  drawFrame(g, s, { xTicks: eTicks, xMinor: eMinor });
})();

/* ---------- Panel F ---------- */
(function () {
  const g = document.getElementById('panel-f');
  const s = scale([780, 305, 1067, 535], [393, 426], [0, 690]);
  const cols = ['#fdf0e8', '#e3ebf6', '#e9eef9', '#f9e8ef'];
  fBands.forEach((b, i) => drawBand(g, s, b, cols[i], 'highlight-band-' + i));
  drawLine(g, s, fCuPc, '#555', 'series-cupc');
  drawLine(g, s, fCuNc, '#79c8ec', 'series-cu-nc');
  drawLine(g, s, fCuNcMmt, '#f0a868', 'series-cu-nc-mmt');
  drawLine(g, s, fNcMmt, '#46a86c', 'series-nc-mmt');
  fRefs.forEach(r => drawRef(g, s, r, '#555', '3 2', 'reference-line-' + r[0], .9));
  drawFrame(g, s, { xTicks: fTicks, xMinor: fMinor });
})();

/* ---------- Panel G ---------- */
(function () {
  const g = document.getElementById('panel-g');
  const s = scale([73, 591, 360, 823], [8970, 9035], [-0.084, 1.452]);
  drawRef(g, s, gRefs[0], '#c89ae8', '2.5 1.5', 'reference-line-cuo', 1.2);
  drawRef(g, s, gRefs[1], '#f39ac0', '2.5 1.5', 'reference-line-cu-nc-mmt', 1.2);
  drawLine(g, s, gCuFoil, '#5e5e5e', 'series-cu-foil');
  drawLine(g, s, gCu2O, '#f0b078', 'series-cu2o');
  drawLine(g, s, gCuO, '#a9a9d6', 'series-cuo');
  drawLine(g, s, gCuPc, '#4ea772', 'series-cupc');
  drawLine(g, s, gCuNc, '#6fcbef', 'series-cu-nc');
  drawLine(g, s, gCuNcMmt, '#ee7f92', 'series-cu-nc-mmt');
  drawFrame(g, s, { xTicks: gTicksX, xMinor: gMinorX, yTicks: gTicksY, yMinor: gMinorY, yFmt: v => v.toFixed(1) });
})();

/* ---------- Panel H ---------- */
(function () {
  const g = document.getElementById('panel-h');
  const s = scale([427, 591, 714, 821], [0, 6], [0, 689]);
  drawLine(g, s, hCuFoil, '#5e5e5e', 'series-cu-foil');
  drawLine(g, s, hCu2O, '#f3b27a', 'series-cu2o');
  drawLine(g, s, hCuO, '#a9a9d6', 'series-cuo');
  drawLine(g, s, hCuPc, '#4ea772', 'series-cupc');
  drawLine(g, s, hCuNc, '#79c8ec', 'series-cu-nc');
  drawLine(g, s, hCuNcMmt, '#ee7f92', 'series-cu-nc-mmt');
  hRefs.forEach(r => drawRef(g, s, r, '#555', '1.5 2', 'reference-line-' + r[0], 1));
  drawFrame(g, s, { xTicks: hTicks, xMinor: hMinor });
})();

/* ---------- Wavelet panels ---------- */
const cmapStops = [[0,[0,0,0]],[8,[42,0,0]],[20,[128,0,0]],[32,[216,0,0]],[40,[255,0,0]],[48,[255,128,0]],[55,[255,255,0]],[62,[232,255,128]],[68,[244,255,240]],[72,[255,255,255]],[82,[232,240,255]],[90,[176,204,248]],[96,[106,156,240]],[100,[48,104,232]]];
function cmap(v) {
  v = Math.max(0, Math.min(100, v));
  for (let i = 1; i < cmapStops.length; i++) {
    if (v <= cmapStops[i][0]) {
      const a = cmapStops[i - 1], b = cmapStops[i], t = (v - a[0]) / (b[0] - a[0]);
      return 'rgb(' + [0, 1, 2].map(c => Math.round(a[1][c] + (b[1][c] - a[1][c]) * t)).join(',') + ')';
    }
  }
  return 'rgb(48,104,232)';
}
function cr(p0, p1, p2, p3, t) {
  return p1 + .5 * t * (p2 - p0 + t * (2 * p0 - 5 * p1 + 4 * p2 - p3 + t * (3 * (p1 - p2) + p3 - p0)));
}
function fieldAt(rows, k, R) {
  const fy = Math.max(0, Math.min(16, (4 - R) / 0.25)), fx = Math.max(0, Math.min(16, k));
  const iy = Math.min(15, Math.floor(fy)), ix = Math.min(15, Math.floor(fx));
  const ty = fy - iy, tx = fx - ix;
  const rowVal = r => {
    const row = rows[Math.max(0, Math.min(16, r))];
    return cr(row[Math.max(0, ix - 1)], row[ix], row[ix + 1], row[Math.min(16, ix + 2)], tx);
  };
  return cr(rowVal(iy - 1), rowVal(iy), rowVal(iy + 1), rowVal(iy + 2), ty);
}
function contourColor(l) {
  if (l < 50) return '#e88f30';
  if (l < 56) return '#d8a838';
  if (l < 62) return '#a8c838';
  if (l < 68) return '#78d068';
  if (l < 74) return '#48d0d0';
  if (l < 86) return '#60aef0';
  return '#2a58d8';
}
function drawHeat(id, box, rows, refs, clipId) {
  const g = document.getElementById(id);
  const s = scale(box, [0, 16], [0.09, 4]);
  const kOf = linear([box[0], box[2]], [0, 16]), rOf = linear([box[3], box[1]], [0.09, 4]);
  const clip = mk('clipPath', { id: clipId }, g);
  mk('rect', { x: box[0], y: box[1], width: box[2] - box[0], height: box[3] - box[1] }, clip);
  const holder = mk('g', { 'clip-path': 'url(#' + clipId + ')' }, g);
  
  
  const bg = mk('rect', { x: box[0], y: box[1], width: box[2] - box[0], height: box[3] - box[1], fill: '#000' }, holder);
  
  
  const cells = mk('g', { filter: 'url(#heat-blur)' }, holder);
  
  
  const step = 4;
  for (let py = box[1] - 8; py < box[3] + 8; py += step) {
    for (let px = box[0] - 8; px < box[2] + 8; px += step) {
      const v = fieldAt(rows, kOf(px + step / 2), rOf(py + step / 2));
      const c = mk('rect', { x: px, y: py, width: step + .4, height: step + .4, fill: cmap(v) }, cells);
      
      
    }
  }
  const cs = 2, nx = Math.ceil((box[2] - box[0]) / cs), ny = Math.ceil((box[3] - box[1]) / cs), grid = [];
  for (let j = 0; j <= ny; j++) {
    const row = [];
    for (let i = 0; i <= nx; i++) row.push(fieldAt(rows, kOf(box[0] + i * cs), rOf(box[1] + j * cs)));
    grid.push(row);
  }
  contourLevels.forEach(l => {
    let d = '';
    for (let j = 0; j < ny; j++) for (let i = 0; i < nx; i++) {
      const a = grid[j][i], b = grid[j][i + 1], c = grid[j + 1][i + 1], e = grid[j + 1][i];
      const cross = [];
      const x = box[0] + i * cs, y = box[1] + j * cs;
      if ((a < l) !== (b < l)) cross.push([x + cs * (l - a) / (b - a), y]);
      if ((b < l) !== (c < l)) cross.push([x + cs, y + cs * (l - b) / (c - b)]);
      if ((e < l) !== (c < l)) cross.push([x + cs * (l - e) / (c - e), y + cs]);
      if ((a < l) !== (e < l)) cross.push([x, y + cs * (l - a) / (e - a)]);
      for (let q = 0; q + 1 < cross.length; q += 2) {
        d += 'M' + cross[q][0].toFixed(1) + ' ' + cross[q][1].toFixed(1) + 'L' + cross[q + 1][0].toFixed(1) + ' ' + cross[q + 1][1].toFixed(1);
      }
    }
    const p = mk('path', { d: d, fill: 'none', stroke: contourColor(l), 'stroke-width': 1, 'stroke-linecap': 'round' }, holder);
    
    
  });
  refs.forEach(r => {
    const l = mk('line', { x1: s.X(r[0]), x2: s.X(r[0]), y1: s.Y(r[1]), y2: s.Y(r[2]), stroke: '#f2f2f2', 'stroke-width': 1.2, 'stroke-dasharray': '4 2.5' }, holder);
    
    
  });
  drawFrame(g, s, { xTicks: kTicks, yTicks: rTicks, color: '#808080', frameW: 2, major: 7, xLabelOff: 22, yLabelGap: 4 });
}
drawHeat('panel-i', [777, 596, 1066, 815], heatI, refsI, 'clip-i');
drawHeat('panel-j', [60, 886, 350, 1105], heatJ, refsJ, 'clip-j');
drawHeat('panel-k', [421, 886, 710, 1105], heatK, refsK, 'clip-k');
drawHeat('panel-l', [777, 886, 1067, 1105], heatL, refsL, 'clip-l');
</script>
</body>
</html>
